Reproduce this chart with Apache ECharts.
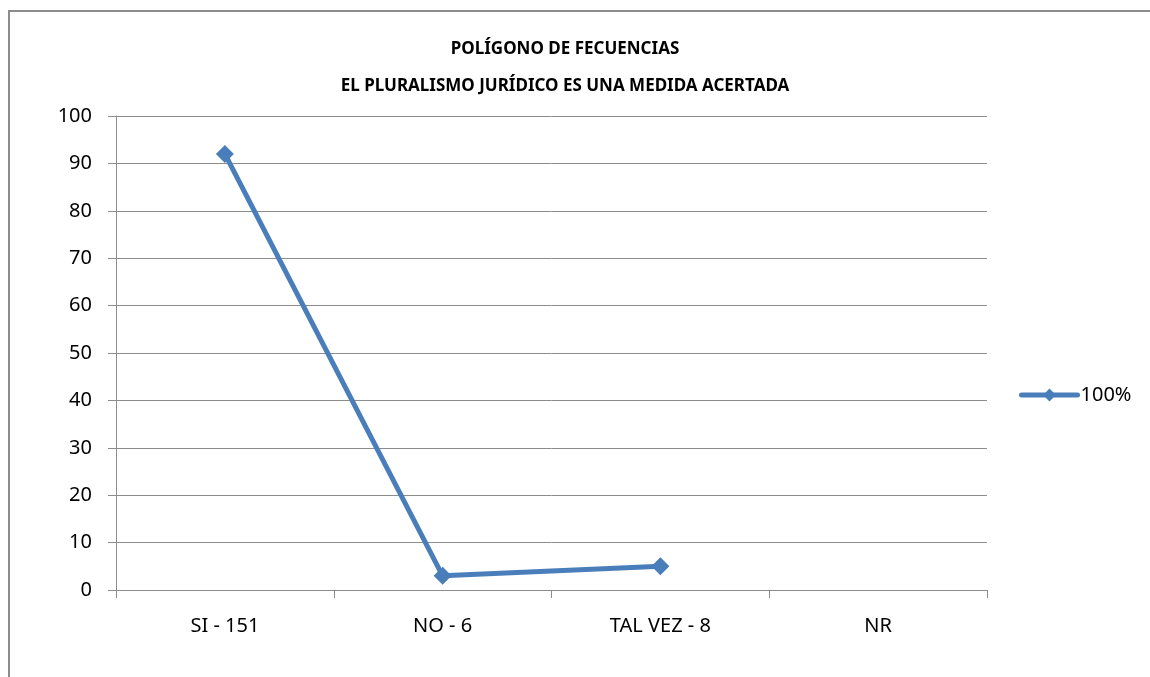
<!DOCTYPE html>
<html>
<head>
<meta charset="utf-8">
<script src="https://cdn.jsdelivr.net/npm/echarts@6/dist/echarts.min.js"></script>
<style>
  html, body { margin: 0; padding: 0; background: #fff; }
  #chart { width: 1150px; height: 677px; }
</style>
</head>
<body>
<div id="chart"></div>
<script>
// datos del gráfico
var categorias = ['SI - 151', 'NO - 6', 'TAL VEZ - 8', 'NR'];
var valores = [92, 3, 5, null];
var serieNombre = '100%';
var titulo = 'POLÍGONO DE FECUENCIAS\nEL PLURALISMO JURÍDICO ES UNA MEDIDA ACERTADA';

var chart = echarts.init(document.getElementById('chart'));
var fuente = '"Noto Sans", "Open Sans", sans-serif';
var azul = '#4a7ebb';

chart.setOption({
  backgroundColor: '#fff',
  animation: false,
  title: {
    text: titulo,
    left: 560,
    textAlign: 'center',
    top: 26,
    textStyle: { fontFamily: fuente, fontWeight: 'bold', fontSize: 17, color: '#000', lineHeight: 37 }
  },
  legend: {
    data: [{ name: serieNombre, itemStyle: { color: azul }, lineStyle: { color: azul, width: 5, cap: 'round' } }],
    left: 1014,
    top: 380,
    itemWidth: 56,
    itemHeight: 16,
    itemGap: 4,
    textStyle: { fontFamily: fuente, fontSize: 20, color: '#000', padding: [0, 0, 0, -2] }
  },
  graphic: [
    { type: 'polyline', shape: { points: [[9, 700], [9, 11], [1200, 11]] },
      style: { stroke: '#8c8c8c', lineWidth: 2, fill: null } }
  ],
  grid: { left: 116, top: 116, width: 871, height: 474 },
  xAxis: {
    type: 'category',
    data: categorias,
    boundaryGap: true,
    axisLine: { lineStyle: { color: '#8c8c8c', width: 1 } },
    axisTick: { show: true, alignWithLabel: false, length: 8, lineStyle: { color: '#8c8c8c' } },
    axisLabel: { fontFamily: fuente, fontSize: 20, color: '#000', margin: 26 }
  },
  yAxis: {
    type: 'value',
    min: 0,
    max: 100,
    interval: 10,
    axisLine: { show: true, lineStyle: { color: '#8c8c8c', width: 1 } },
    axisTick: { show: true, length: 8, lineStyle: { color: '#8c8c8c' } },
    axisLabel: { fontFamily: fuente, fontSize: 20, color: '#000', margin: 24 },
    splitLine: { lineStyle: { color: '#8c8c8c', width: 1 } }
  },
  series: [{
    name: serieNombre,
    type: 'line',
    data: valores,
    symbol: 'diamond',
    symbolSize: 18,
    connectNulls: false,
    lineStyle: { color: azul, width: 5 },
    itemStyle: { color: azul }
  }]
});
</script>
</body>
</html>
